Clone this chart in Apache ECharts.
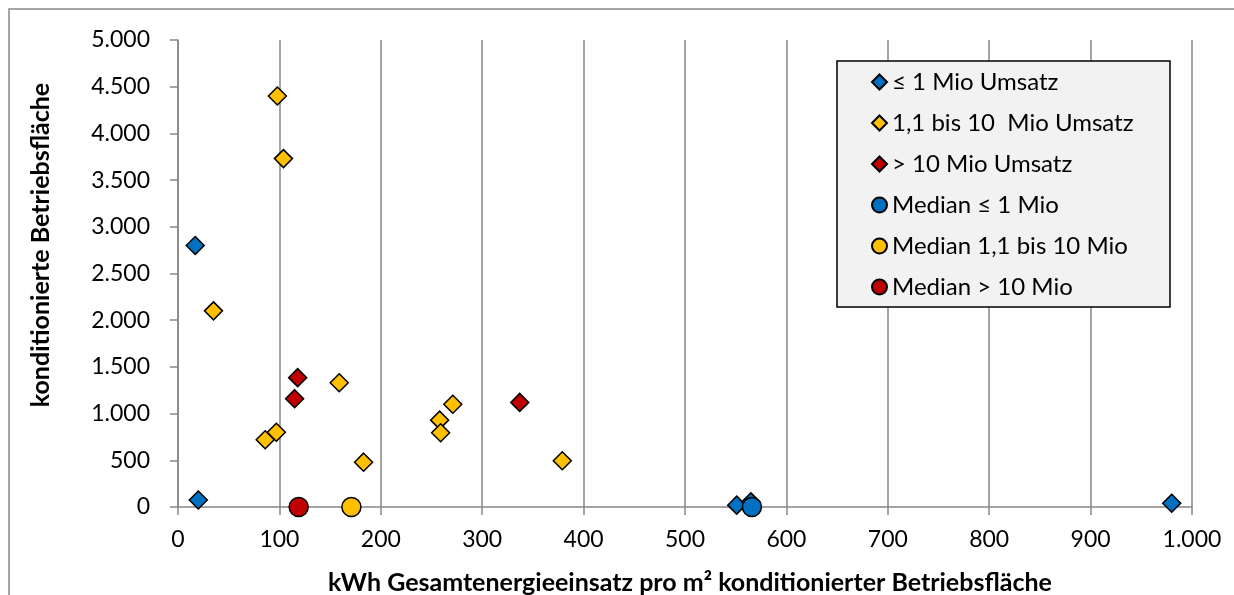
<!DOCTYPE html>
<html>
<head>
<meta charset="utf-8">
<script src="https://cdn.jsdelivr.net/npm/echarts@6/dist/echarts.min.js"></script>
<style>
  html, body { margin: 0; padding: 0; background: #fff; }
  #chart { width: 1234px; height: 595px; }
</style>
</head>
<body>
<div id="chart"></div>
<script>
// Energy use per m² (x) vs. conditioned floor area (y), grouped by turnover class
const seriesNames = [
  '≤ 1 Mio Umsatz',
  '1,1 bis 10  Mio Umsatz',
  '> 10 Mio Umsatz',
  'Median ≤ 1 Mio',
  'Median 1,1 bis 10 Mio',
  'Median > 10 Mio'
];
const smallFirms = [[17, 2800], [20, 75], [551, 20], [565, 55], [980, 40]];
const midFirms = [[98, 4400], [104, 3730], [35, 2100], [159, 1330], [86, 720], [97, 800],
                  [183, 480], [271, 1100], [258, 930], [259, 795], [379, 495]];
const largeFirms = [[118, 1385], [115, 1160], [337, 1120]];
const medianSmall = [[566, 0]];
const medianMid = [[171, 0]];
const medianLarge = [[119, 0]];
const xTicks = { min: 0, max: 1000, step: 100 };
const yTicks = { min: 0, max: 5000, step: 500 };
const xTitle = 'kWh Gesamtenergieeinsatz pro m² konditionierter Betriebsfläche';
const yTitle = 'konditionierte Betriebsfläche';

const BLUE = '#0070C0', YELLOW = '#FFC000', RED = '#C00000';
const GRID = '#868686';
const FONT = 'Lato';

function fmt(v) {
  return String(v).replace(/\B(?=(\d{3})+(?!\d))/g, '.');
}

function scatter(name, data, symbol, color, size) {
  return {
    name, type: 'scatter', data, symbol, symbolSize: size,
    itemStyle: { color, borderColor: '#000', borderWidth: 1.5, opacity: 1 },
    emphasis: { disabled: true }
  };
}

const chart = echarts.init(document.getElementById('chart'), null, { renderer: 'canvas' });
chart.setOption({
  animation: false,
  backgroundColor: '#fff',
  textStyle: { fontFamily: FONT },
  grid: { left: 178, right: 42, top: 40, bottom: 88, containLabel: false },
  xAxis: {
    type: 'value', min: xTicks.min, max: xTicks.max, interval: xTicks.step,
    axisLine: { show: true, onZero: false, lineStyle: { color: GRID, width: 1.5 } },
    axisTick: { show: true, length: 8, lineStyle: { color: GRID, width: 1.5 } },
    splitLine: { show: true, lineStyle: { color: GRID, width: 1.5 } },
    axisLabel: { color: '#000', fontSize: 23, fontFamily: FONT, margin: 21, formatter: fmt }
  },
  yAxis: {
    type: 'value', min: yTicks.min, max: yTicks.max, interval: yTicks.step,
    axisLine: { show: true, onZero: false, lineStyle: { color: GRID, width: 1.5 } },
    axisTick: { show: true, length: 8, lineStyle: { color: GRID, width: 1.5 } },
    splitLine: { show: false },
    axisLabel: { color: '#000', fontSize: 23, fontFamily: FONT, margin: 28, formatter: fmt }
  },
  legend: {
    z: 10,
    orient: 'vertical', left: 871, top: 70, padding: 0,
    itemWidth: 15, itemHeight: 15, itemGap: 17,
    textStyle: { color: '#000', fontSize: 24, lineHeight: 24, fontFamily: FONT },
    data: seriesNames,
    selectedMode: false
  },
  graphic: [
    { type: 'rect', z: 0, silent: true,
      shape: { x: 9, y: 9, width: 1400, height: 800 },
      style: { fill: 'none', stroke: GRID, lineWidth: 1.5 } },
    { type: 'rect', z: 3, silent: true,
      shape: { x: 837, y: 61, width: 333, height: 246 },
      style: { fill: '#F2F2F2', stroke: '#000', lineWidth: 1.5 } },
    { type: 'text', z: 3, silent: true, x: 690, y: 583,
      style: { text: xTitle, fontFamily: FONT, fontWeight: 'bold', fontSize: 25,
               fill: '#000', align: 'center', verticalAlign: 'middle' } },
    { type: 'text', z: 3, silent: true, x: 41, y: 245, rotation: Math.PI / 2,
      style: { text: yTitle, fontFamily: FONT, fontWeight: 'bold', fontSize: 25,
               fill: '#000', align: 'center', verticalAlign: 'middle' } }
  ],
  series: [
    scatter(seriesNames[0], smallFirms, 'diamond', BLUE, 18),
    scatter(seriesNames[1], midFirms, 'diamond', YELLOW, 18),
    scatter(seriesNames[2], largeFirms, 'diamond', RED, 18),
    scatter(seriesNames[3], medianSmall, 'circle', BLUE, 19),
    scatter(seriesNames[4], medianMid, 'circle', YELLOW, 19),
    scatter(seriesNames[5], medianLarge, 'circle', RED, 19)
  ]
});
</script>
</body>
</html>
